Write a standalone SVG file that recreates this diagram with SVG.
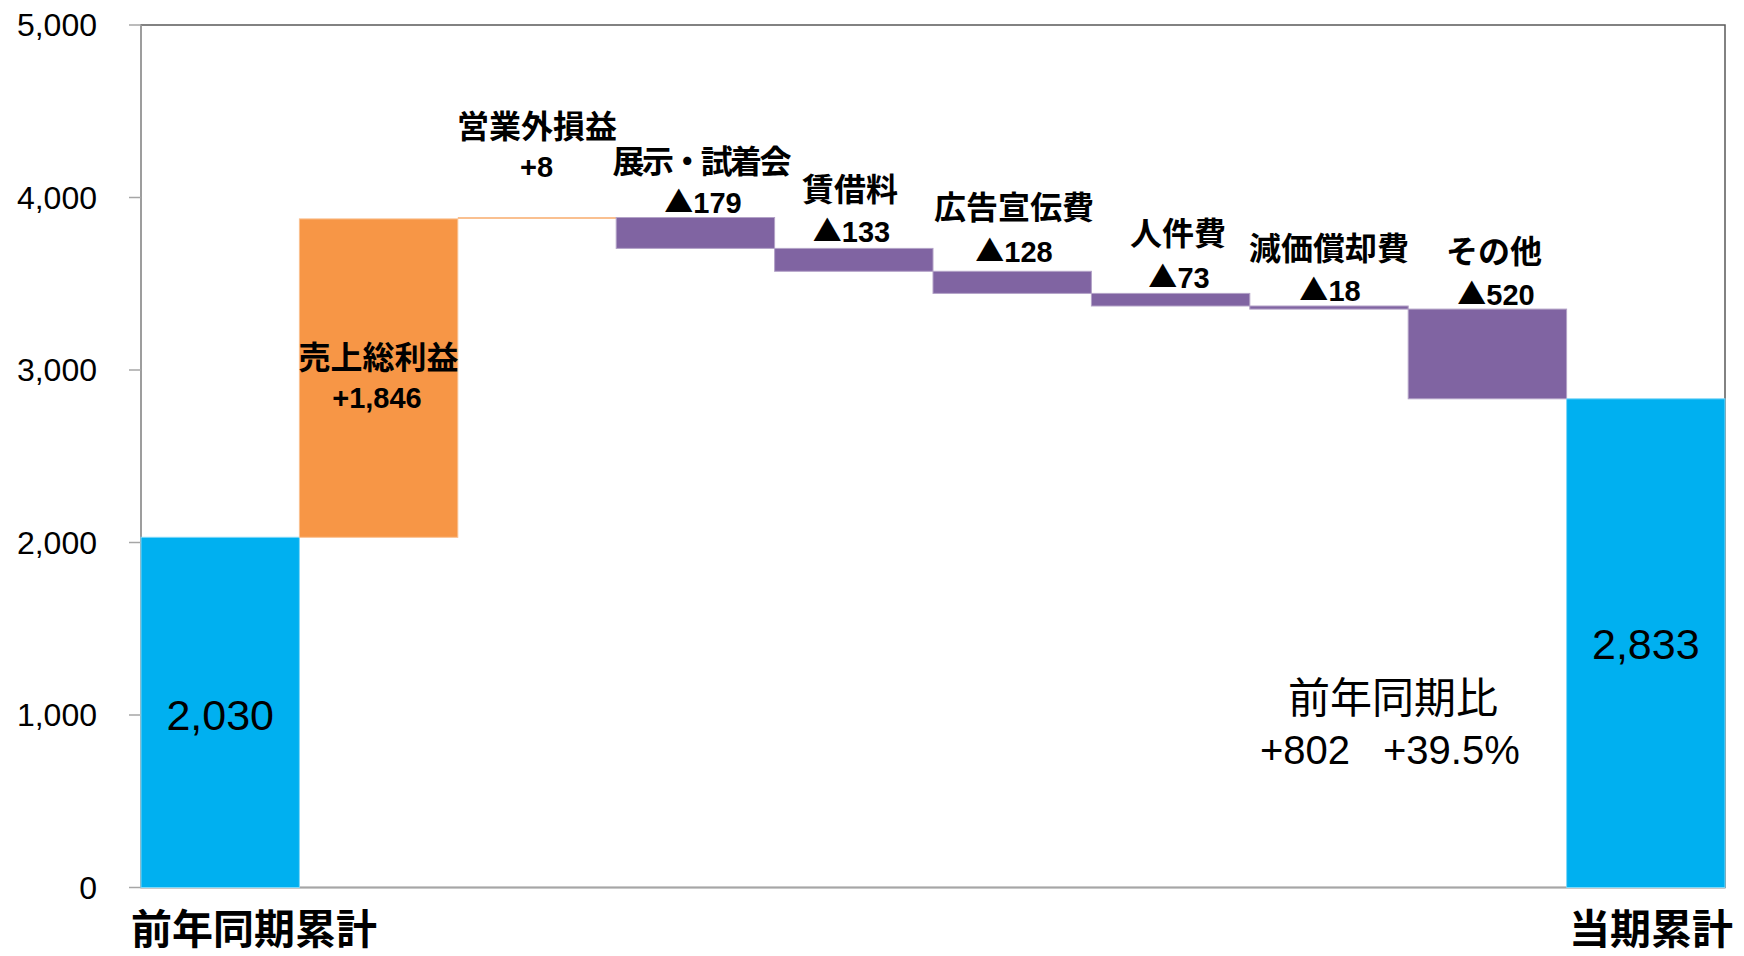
<svg xmlns="http://www.w3.org/2000/svg" width="1744" height="956" viewBox="0 0 1744 956">
<style>
.tick{font-family:"Liberation Sans","Noto Sans",sans-serif;font-size:32px;fill:#000;text-anchor:end}
.cj{font-family:"Noto Sans CJK JP","Noto Sans CJK SC",sans-serif;font-weight:bold;font-size:32px;fill:#000;text-anchor:middle}
.num{font-family:"Liberation Sans","Noto Sans CJK JP",sans-serif;font-weight:bold;font-size:29px;fill:#000;text-anchor:middle}
.tri{font-family:"Noto Sans CJK JP","Noto Sans CJK SC",sans-serif;font-size:29px}
.big{font-family:"Liberation Sans","Noto Sans",sans-serif;font-size:43px;fill:#000;text-anchor:middle}
.cat{font-family:"Noto Sans CJK JP","Noto Sans CJK SC",sans-serif;font-weight:bold;font-size:41px;fill:#000}
.blue{fill:#00B0F0;stroke:#7FD8F8;stroke-width:1}
.orange{fill:#F79646;stroke:#FAC090;stroke-width:1}
.purple{fill:#8064A2;stroke:#B3A2C7;stroke-width:1}
.grid{stroke:#A6A6A6;stroke-width:1.5;fill:none}
</style>
<rect width="1744" height="956" fill="#fff"/>
<g id="axes">
  <rect x="141" y="25" width="1584" height="862.5" fill="none" stroke="#595959" stroke-width="1.5"/>
  <line class="grid" x1="141" y1="25" x2="141" y2="887.5"/>
  <line class="grid" x1="129" y1="887.5" x2="1725" y2="887.5"/>
  <line class="grid" x1="129" y1="25" x2="141" y2="25"/>
  <line class="grid" x1="129" y1="197.5" x2="141" y2="197.5"/>
  <line class="grid" x1="129" y1="370" x2="141" y2="370"/>
  <line class="grid" x1="129" y1="542.5" x2="141" y2="542.5"/>
  <line class="grid" x1="129" y1="715" x2="141" y2="715"/>
  <text class="tick" x="97" y="36">5,000</text>
  <text class="tick" x="97" y="208.5">4,000</text>
  <text class="tick" x="97" y="381">3,000</text>
  <text class="tick" x="97" y="553.5">2,000</text>
  <text class="tick" x="97" y="726">1,000</text>
  <text class="tick" x="97" y="898.5">0</text>
</g>
<g id="bar-prev">
  <rect class="blue" x="141" y="537.3" width="158.4" height="350.2"/>
  <text class="big" x="220.2" y="730">2,030</text>
  <text class="cat" x="131" y="944">前年同期累計</text>
</g>
<g id="bar-gross">
  <rect class="orange" x="299.4" y="218.9" width="158.4" height="318.4"/>
  <text class="cj" x="378.6" y="369">売上総利益</text>
  <text class="num" x="377" y="408">+1,846</text>
</g>
<g id="bar-nonop">
  <rect x="457.8" y="217" width="158.4" height="2" fill="#FAC090"/>
  <text class="cj" x="537" y="138">営業外損益</text>
  <text class="num" x="536.5" y="176.5">+8</text>
</g>
<g id="bar-exhibit">
  <rect class="purple" x="616.2" y="217.5" width="158.4" height="30.9"/>
  <text class="cj" x="702" y="173" font-size="31" textLength="179" lengthAdjust="spacing">展示・試着会</text>
  <text class="num" x="703" y="213"><tspan class="tri">▲</tspan>179</text>
</g>
<g id="bar-rent">
  <rect class="purple" x="774.6" y="248.4" width="158.4" height="22.9"/>
  <text class="cj" x="850" y="201">賃借料</text>
  <text class="num" x="851.5" y="241.5"><tspan class="tri">▲</tspan>133</text>
</g>
<g id="bar-ads">
  <rect class="purple" x="933" y="271.3" width="158.4" height="22.1"/>
  <text class="cj" x="1014" y="219">広告宣伝費</text>
  <text class="num" x="1014" y="261.5"><tspan class="tri">▲</tspan>128</text>
</g>
<g id="bar-personnel">
  <rect class="purple" x="1091.4" y="293.4" width="158.4" height="12.6"/>
  <text class="cj" x="1178" y="245">人件費</text>
  <text class="num" x="1179" y="288"><tspan class="tri">▲</tspan>73</text>
</g>
<g id="bar-depr">
  <rect class="purple" x="1249.8" y="306" width="158.4" height="3.1"/>
  <text class="cj" x="1329" y="260">減価償却費</text>
  <text class="num" x="1330" y="301"><tspan class="tri">▲</tspan>18</text>
</g>
<g id="bar-other">
  <rect class="purple" x="1408.2" y="309.1" width="158.4" height="89.7"/>
  <text class="cj" x="1494" y="263">その他</text>
  <text class="num" x="1496" y="305"><tspan class="tri">▲</tspan>520</text>
</g>
<g id="bar-current">
  <rect class="blue" x="1566.6" y="398.8" width="158.4" height="488.7"/>
  <text class="big" x="1645.8" y="659">2,833</text>
  <text class="cat" x="1733" y="944" text-anchor="end">当期累計</text>
</g>
<g id="yoy">
  <text x="1393" y="713" font-family="'Noto Sans CJK JP','Noto Sans CJK SC',sans-serif" font-size="42" text-anchor="middle" fill="#000">前年同期比</text>
  <text y="764" font-family="'Liberation Sans',Arial,sans-serif" font-size="40" fill="#000"><tspan x="1260">+802</tspan><tspan x="1383">+39.5%</tspan></text>
</g>
<g id="connectors"/>
</svg>
